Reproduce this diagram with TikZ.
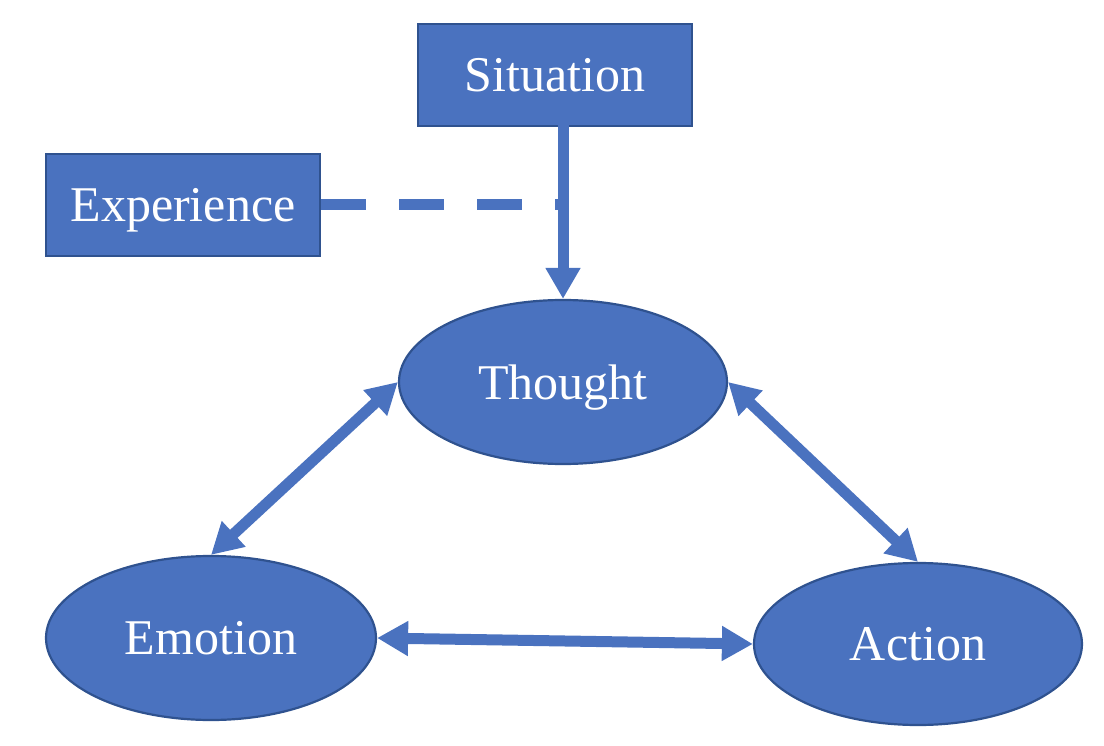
\documentclass[tikz,border=0pt]{standalone}
\usepackage{fontspec}
\setmainfont{Liberation Serif}
\usetikzlibrary{shapes.geometric,arrows.meta}
\definecolor{fillblue}{HTML}{4A72BF}
\definecolor{edgeblue}{HTML}{2F528F}
\definecolor{arrowblue}{HTML}{4A72BF}
\begin{document}
\begin{tikzpicture}[x=1pt,y=-1pt,
  lbl/.style={text=white,font=\fontsize{50}{60}\selectfont,text depth=0pt},
  boxnode/.style={lbl,rectangle,draw=edgeblue,fill=fillblue,line width=2.2pt,minimum width=274pt,minimum height=102pt,inner sep=0pt},
  ellnode/.style={lbl,ellipse,draw=edgeblue,fill=fillblue,line width=2.2pt,minimum width=328pt,minimum height=164pt,inner sep=0pt},
  conn/.style={draw=arrowblue,line width=11pt},
  tip/.style={-{Triangle[length=31pt,width=33pt]}},
  bitip/.style={{Triangle[length=31pt,width=33pt]}-{Triangle[length=31pt,width=33pt]}},
]
\useasboundingbox (0,0) rectangle (1104,746);
\node[boxnode] (situation) at (555,75) {Situation};
\node[boxnode] (experience) at (183,205) {Experience};
\node[ellnode] (thought) at (563,382) {Thought};
\node[ellnode,minimum width=330pt] (emotion) at (211,638) {Emotion};
\node[ellnode,minimum height=162pt] (action) at (918,644) {Action};
\coordinate (meet) at (experience.east -| thought.north);
\draw[conn,dash pattern=on 45pt off 33pt] (experience.east) -- (meet);
\draw[conn,tip] ([yshift=4pt]situation.south -| thought.north) -- (thought.north);
\draw[conn,bitip] (thought.west) -- (emotion.north);
\draw[conn,bitip] (thought.east) -- (action.north);
\draw[conn,bitip] (emotion.east) -- (action.west);
\end{tikzpicture}
\end{document}
